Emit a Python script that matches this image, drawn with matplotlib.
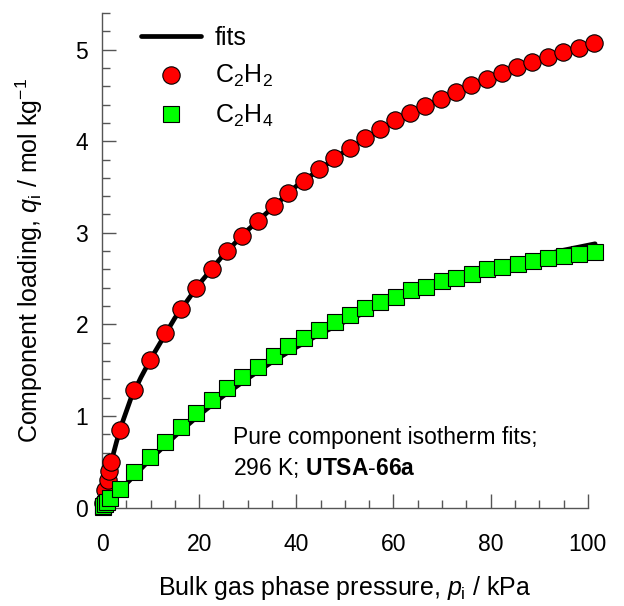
import matplotlib
matplotlib.use("Agg")
import matplotlib.pyplot as plt
from matplotlib.ticker import MultipleLocator

plt.rcParams["font.family"] = ["Liberation Sans", "DejaVu Sans"]
plt.rcParams["mathtext.fontset"] = "custom"
plt.rcParams["mathtext.rm"] = "Liberation Sans"
plt.rcParams["mathtext.it"] = "Liberation Sans:italic"
plt.rcParams["mathtext.bf"] = "Liberation Sans:bold"

# C2H2 data points (kPa, mol/kg)
c2h2_p = [0.1, 0.6, 1.2, 1.4, 1.85, 3.7, 6.6, 9.9, 13.0, 16.2, 19.3, 22.6, 25.8,
          28.9, 32.2, 35.3, 38.3, 41.6, 44.7, 47.8, 51.0, 54.1, 57.2, 60.3,
          63.4, 66.5, 69.7, 72.9, 76.0, 79.2, 82.4, 85.5, 88.6, 91.8, 94.9,
          98.1, 101.2]
c2h2_q = [0.05, 0.19, 0.30, 0.40, 0.50, 0.85, 1.28, 1.61, 1.91, 2.17, 2.40, 2.60,
          2.80, 2.97, 3.13, 3.29, 3.44, 3.57, 3.70, 3.82, 3.93, 4.03, 4.13,
          4.23, 4.31, 4.39, 4.46, 4.54, 4.61, 4.68, 4.75, 4.81, 4.87, 4.92,
          4.97, 5.02, 5.07]

# C2H4 data points
c2h4_p = [0.1, 0.3, 0.6, 1.0, 1.65, 3.7, 6.6, 9.9, 13.0, 16.2, 19.3, 22.6, 25.8,
          28.9, 32.2, 35.3, 38.3, 41.6, 44.7, 47.9, 51.0, 54.1, 57.2, 60.5,
          63.6, 66.7, 69.9, 72.9, 76.2, 79.3, 82.4, 85.7, 88.7, 91.8, 95.1,
          98.2, 101.4]
c2h4_q = [0.01, 0.02, 0.04, 0.06, 0.10, 0.20, 0.385, 0.555, 0.72, 0.876, 1.03,
          1.17, 1.30, 1.43, 1.54, 1.65, 1.76, 1.85, 1.94, 2.03, 2.10, 2.18,
          2.24, 2.30, 2.37, 2.41, 2.47, 2.51, 2.55, 2.60, 2.63, 2.66, 2.69,
          2.72, 2.75, 2.77, 2.79]

# fit curves
fit_c2h2_p = [0, 0.5, 1, 2, 3, 4, 6, 8, 10, 15, 20, 25, 30, 40, 50, 60, 70,
              80, 90, 100, 101.5]
fit_c2h2_q = [0, 0.14, 0.27, 0.52, 0.72, 0.90, 1.20, 1.42, 1.62, 2.07, 2.44,
              2.76, 3.03, 3.51, 3.89, 4.21, 4.47, 4.69, 4.89, 5.05, 5.08]
fit_c2h4_p = [0, 2, 5, 10, 15, 20, 25, 30, 35, 40, 45, 50, 55, 60, 65, 70,
              75, 80, 85, 90, 95, 101.5]
fit_c2h4_q = [0, 0.10, 0.26, 0.53, 0.78, 1.01, 1.22, 1.41, 1.59, 1.75, 1.90,
              2.03, 2.15, 2.26, 2.36, 2.45, 2.54, 2.62, 2.69, 2.75, 2.81, 2.88]

FS = 18
TICK_FS = 16.5
AXIS_GRAY = "#555555"

fig = plt.figure(figsize=(6.24, 6.06), dpi=100)
ax = fig.add_axes([0.1635, 0.1625, 0.7785, 0.816])

ax.plot(fit_c2h2_p, fit_c2h2_q, "-", color="black", lw=3.4, zorder=2,
        solid_capstyle="round", clip_on=False, label="fits")
ax.plot(fit_c2h4_p, fit_c2h4_q, "-", color="black", lw=3.4, zorder=2,
        solid_capstyle="round", clip_on=False)
ax.plot(c2h2_p, c2h2_q, "o", ms=12.5, mfc="#ff0000", mec="black", mew=0.8,
        zorder=3, clip_on=False, label=r"C$_2$H$_2$")
ax.plot(c2h4_p, c2h4_q, "s", ms=11, mfc="#00ff00", mec="black", mew=0.8,
        zorder=4, clip_on=False, label=r"C$_2$H$_4$")

ax.set_xlim(0, 100)
ax.set_ylim(0, 5.4)
ax.xaxis.set_major_locator(MultipleLocator(20))
ax.xaxis.set_minor_locator(MultipleLocator(5))
ax.yaxis.set_major_locator(MultipleLocator(1))
ax.yaxis.set_minor_locator(MultipleLocator(0.2))

for s in ["top", "right"]:
    ax.spines[s].set_visible(False)
for s in ["left", "bottom"]:
    ax.spines[s].set_color(AXIS_GRAY)
    ax.spines[s].set_linewidth(1.0)

ax.tick_params(which="both", direction="in", color=AXIS_GRAY, width=1.0,
               labelsize=TICK_FS, labelcolor="black")
ax.tick_params(which="major", length=10)
ax.tick_params(which="minor", length=6)
ax.tick_params(axis="x", which="major", pad=18)
ax.tick_params(axis="y", which="major", pad=10)

ax.set_xlabel(r"Bulk gas phase pressure, $p_\mathrm{i}$ / kPa", fontsize=FS,
              labelpad=13)
ax.set_ylabel(r"Component loading, $q_\mathrm{i}$ / mol kg$^{-1}$", fontsize=FS,
              labelpad=22)

ax.text(27.0, 0.77, "Pure component isotherm fits;", fontsize=TICK_FS,
        ha="left", va="center")
ax.text(27.0, 0.43, r"296 K; $\mathbf{UTSA}$-$\mathbf{66a}$", fontsize=TICK_FS,
        ha="left", va="center")

ax.legend(loc="upper left", bbox_to_anchor=(0.06, 0.995), frameon=False,
          fontsize=FS, handlelength=2.4, handletextpad=0.55,
          labelspacing=0.55, borderaxespad=0)

fig.savefig("out.png", dpi=100)
